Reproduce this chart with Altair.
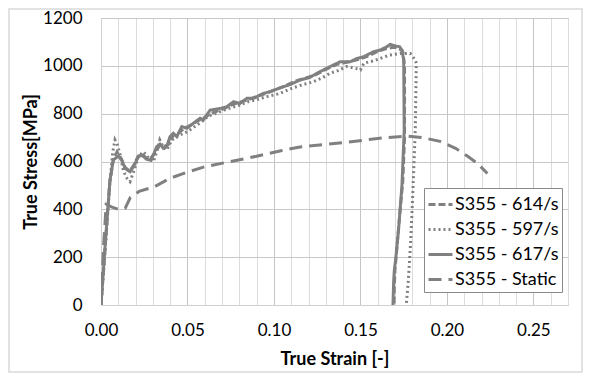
import altair as alt
import pandas as pd

# ---- data ----
series_names = ["S355 - 614/s", "S355 - 597/s", "S355 - 617/s", "S355 - Static"]

x_617 = [0.0, 0.0025, 0.0052, 0.0071, 0.0100, 0.0120, 0.0139, 0.0168, 0.0187, 0.0216, 0.0235,
         0.0264, 0.0284, 0.0303, 0.0322, 0.0341, 0.0361, 0.0380, 0.0399, 0.0418, 0.0438, 0.0467,
         0.0496, 0.0534, 0.0573, 0.0592, 0.0631, 0.0689, 0.0727, 0.0766, 0.0804, 0.0843, 0.0882,
         0.0939, 0.0978, 0.1036, 0.1094, 0.1152, 0.1209, 0.1248, 0.1325, 0.1383, 0.1441, 0.1480,
         0.1518, 0.1576, 0.1615, 0.1653, 0.1672, 0.1701, 0.1726, 0.1740, 0.1750, 0.1753, 0.1740,
         0.1720, 0.1705, 0.1696, 0.1692, 0.1688]
y_617 = [0, 260, 522, 606, 623, 606, 571, 557, 578, 620, 627,
         609, 606, 627, 662, 673, 655, 662, 704, 718, 704, 746,
         739, 760, 781, 774, 815, 822, 829, 850, 843, 864, 864,
         885, 892, 908, 922, 941, 952, 969, 997, 1017, 1017, 1031,
         1038, 1059, 1066, 1080, 1090, 1083, 1080, 1066, 1024, 731, 500,
         313, 200, 146, 100, 0]

x_614 = [0.0, 0.0025, 0.0050, 0.0072, 0.0092, 0.0115, 0.0140, 0.0165, 0.0190, 0.0215, 0.0240,
         0.0265, 0.0290, 0.0315, 0.0340, 0.0365, 0.0390, 0.0420, 0.0450, 0.0480, 0.0520, 0.0560,
         0.0600, 0.0650, 0.0700, 0.0750, 0.0800, 0.0850, 0.0900, 0.0950, 0.1000, 0.1060, 0.1120,
         0.1180, 0.1240, 0.1300, 0.1360, 0.1420, 0.1480, 0.1540, 0.1600, 0.1650, 0.1690, 0.1720,
         0.1745, 0.1755, 0.1755, 0.1745, 0.1730, 0.1712, 0.1700, 0.1696, 0.1694]
y_614 = [0, 250, 510, 610, 640, 615, 575, 560, 585, 622, 630,
         612, 615, 640, 668, 662, 672, 712, 720, 738, 752, 770,
         785, 805, 818, 835, 848, 858, 872, 884, 898, 915, 935,
         948, 962, 985, 1005, 1015, 1025, 1040, 1060, 1072, 1078, 1075,
         1060, 1000, 700, 520, 400, 250, 150, 80, 0]

x_597 = [0.0, 0.0025, 0.0050, 0.0068, 0.0081, 0.0095, 0.0110, 0.0130, 0.0150, 0.0168, 0.0190,
         0.0215, 0.0245, 0.0275, 0.0303, 0.0322, 0.0340, 0.0360, 0.0380, 0.0410, 0.0440, 0.0470,
         0.0500, 0.0540, 0.0580, 0.0620, 0.0660, 0.0700, 0.0750, 0.0800, 0.0850, 0.0900, 0.0950,
         0.1000, 0.1036, 0.1100, 0.1160, 0.1230, 0.1280, 0.1325, 0.1370, 0.1420, 0.1470, 0.1500,
         0.1520, 0.1570, 0.1615, 0.1670, 0.1730, 0.1788, 0.1817, 0.1823, 0.1817, 0.1802, 0.1790,
         0.1777, 0.1765]
y_597 = [0, 240, 500, 640, 690, 670, 630, 560, 530, 516, 560,
         620, 641, 615, 599, 640, 690, 660, 648, 690, 705, 715,
         725, 745, 765, 790, 800, 812, 825, 835, 850, 858, 870,
         878, 885, 905, 920, 934, 950, 969, 980, 997, 990, 983,
         1011, 1020, 1031, 1045, 1052, 1052, 1024, 1011, 731, 453, 260,
         104, 0]

x_static = [0.0, 0.0015, 0.0030, 0.0060, 0.0100, 0.0140, 0.0170, 0.0220, 0.0310, 0.0400, 0.0500,
            0.0600, 0.0750, 0.0900, 0.1040, 0.1150, 0.1300, 0.1420, 0.1550, 0.1650, 0.1770, 0.1860,
            0.1960, 0.2050, 0.2120, 0.2180, 0.2234]
y_static = [0, 250, 420, 410, 400, 405, 450, 475, 495, 530, 556,
            578, 600, 622, 645, 661, 672, 680, 692, 700, 706, 700,
            684, 655, 622, 590, 550]

frames = []
for name, xs, ys in [("S355 - 614/s", x_614, y_614), ("S355 - 597/s", x_597, y_597),
                     ("S355 - 617/s", x_617, y_617), ("S355 - Static", x_static, y_static)]:
    frames.append(pd.DataFrame({"strain": xs, "stress": ys, "series": name, "i": range(len(xs))}))
df = pd.concat(frames, ignore_index=True)

FONT = "Lato"
GRAY = "#808080"

x_ticks = [round(i * 0.01, 2) for i in range(28)]
y_ticks = [0, 200, 400, 600, 800, 1000, 1200]

lines = alt.Chart(df).mark_line(strokeWidth=3, color=GRAY, clip=True).encode(
    x=alt.X("strain:Q",
            scale=alt.Scale(domain=[0, 0.27], nice=False, zero=False),
            axis=alt.Axis(values=x_ticks, title="True Strain [-]", labelFlush=False,
                          labelExpr="abs(datum.value*20 - round(datum.value*20)) < 0.001 ? format(datum.value, '.2f') : ''",
                          gridColor={"condition": {"test": "abs(datum.value*20 - round(datum.value*20)) < 0.001", "value": "#c4c4c4"}, "value": "#dcdcdc"},
                          titleX=233.5, titleY=59, titleBaseline="alphabetic", titleAnchor="middle")),
    y=alt.Y("stress:Q",
            scale=alt.Scale(domain=[0, 1200], nice=False),
            axis=alt.Axis(values=y_ticks, title="True Stress[MPa]", format="d", labelFlush=False,
                          titleX=-65, titleY=143.5, titleAngle=-90, titleBaseline="alphabetic",
                          titleAlign="center")),
    strokeDash=alt.StrokeDash("series:N",
                              scale=alt.Scale(domain=series_names,
                                              range=[[7, 3], [2, 3], [1, 0], [13, 7]]),
                              legend=alt.Legend(title=None, orient="none", legendX=323, legendY=170,
                                                symbolType="stroke", symbolSize=576,
                                                symbolStrokeWidth=3, symbolStrokeColor=GRAY,
                                                labelFont=FONT, labelFontSize=18, labelColor="#000000",
                                                labelOffset=1, rowPadding=2,
                                                padding=3, strokeColor="#8a8a8a",
                                                fillColor="#ffffff")),
    order="i:Q",
)

frame = alt.Chart(pd.DataFrame({"a": [0]})).mark_rect(
    fill=None, stroke="#d9d9d9", strokeWidth=1.5, clip=False
).encode(x=alt.value(-92), x2=alt.value(481), y=alt.value(-9), y2=alt.value(354))

chart = alt.layer(frame, lines).properties(
    width=467, height=287,
    autosize="none",
    padding={"left": 93, "top": 10, "right": 15, "bottom": 68},
).configure_axis(
    labelFont=FONT, labelFontSize=17, labelColor="#000000",
    titleFont=FONT, titleFontSize=18, titleFontWeight="bold", titleColor="#000000",
    domainColor="#d0d0d0", ticks=False, gridColor="#c8c8c8", gridWidth=1,
    labelPadding=19,
).configure_axisX(labelPadding=17).configure_view(stroke="#d0d0d0")

chart.save("out.html", embed_options={"renderer": "svg", "actions": False})
